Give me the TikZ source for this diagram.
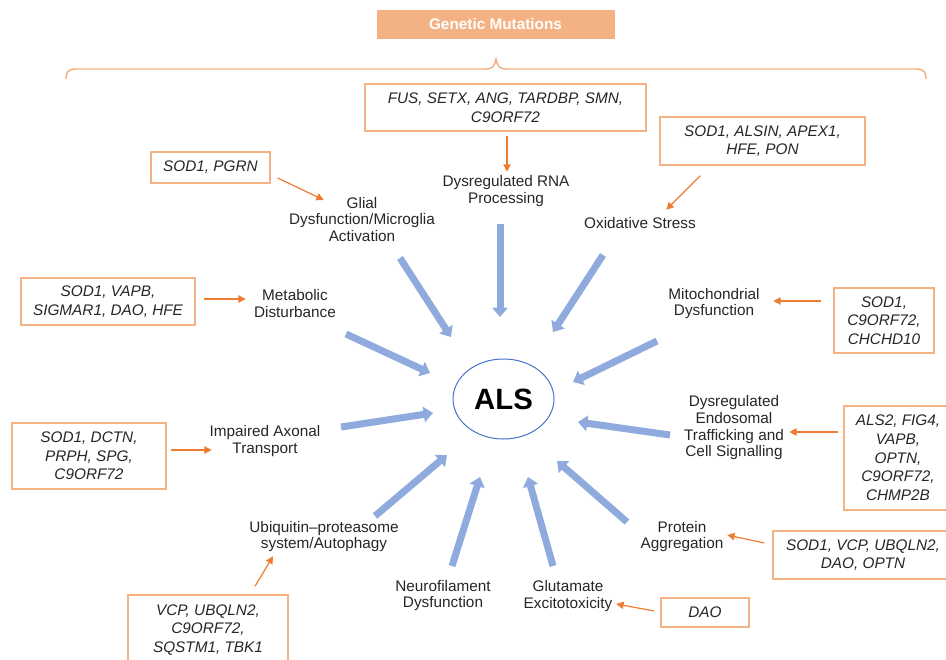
\documentclass[tikz,border=0pt]{standalone}
\usepackage{fontspec}
\setmainfont{Liberation Sans}
\usetikzlibrary{arrows.meta,shapes.geometric}
\definecolor{boxor}{RGB}{244,177,131}
\definecolor{arror}{RGB}{237,125,49}
\definecolor{blu}{RGB}{143,170,220}
\definecolor{ellc}{RGB}{68,114,196}
\definecolor{txt}{RGB}{38,38,38}
\begin{document}
\begin{tikzpicture}[x=0.75pt,y=-0.75pt,
 genebox/.style={draw=boxor,line width=1.1pt,inner sep=0pt,align=center,font=\fontsize{11.5}{14}\selectfont\itshape,text=txt},
 lbl/.style={inner sep=0pt,align=center,font=\fontsize{11.5}{12.5}\selectfont,text=txt},
 oarrow/.style={draw=arror,line width=0.9pt,-{Triangle[width=5.5pt,length=5.5pt]}},
 barrow/.style={draw=blu,line width=5.25pt,-{Triangle[width=11.5pt,length=7pt]}},
 bracestyle/.style={draw=boxor,line width=1.1pt}]
\useasboundingbox (0,0) rectangle (946,660);
\clip (0,0) rectangle (946,660);

% header
\node[fill=boxor,minimum width=178.5pt,minimum height=21.75pt,inner sep=0pt,text=white,font=\fontsize{11.5}{13}\selectfont\bfseries] (hdr) at (495.5,24.5) {Genetic Mutations};
\draw[bracestyle] (66,79) .. controls (66,72) and (68,69) .. (76,69) -- (486,69) .. controls (492,69) and (495,66) .. (496,59) .. controls (497,66) and (500,69) .. (506,69) -- (916,69) .. controls (924,69) and (926,72) .. (926,79);

% gene boxes
\node[genebox,minimum width=210.75pt,minimum height=35.25pt] (fus) at (505.5,107.5) {FUS, SETX, ANG, TARDBP, SMN,\\C9ORF72};
\node[genebox,minimum width=153.75pt,minimum height=36pt] (alsin) at (762.5,141) {SOD1, ALSIN, APEX1,\\HFE, PON};
\node[genebox,minimum width=89.25pt,minimum height=23.25pt] (pgrn) at (210.5,167.5) {SOD1, PGRN};
\node[genebox,minimum width=130.5pt,minimum height=35.25pt] (vapb) at (108,301.5) {SOD1, VAPB,\\SIGMAR1, DAO, HFE};
\node[genebox,minimum width=75pt,minimum height=48.75pt] (chchd) at (884,320.5) {SOD1,\\C9ORF72,\\CHCHD10};
\node[genebox,minimum width=115.5pt,minimum height=49.5pt] (dctn) at (89,456) {SOD1, DCTN,\\PRPH, SPG,\\C9ORF72};
\node[genebox,minimum width=81pt,minimum height=78pt] (alstwo) at (898,458) {ALS2, FIG4,\\VAPB,\\OPTN,\\C9ORF72,\\CHMP2B};
\node[genebox,minimum width=135pt,minimum height=36pt] (vcpa) at (863,555) {SOD1, VCP, UBQLN2,\\DAO, OPTN};
\node[genebox,minimum width=66pt,minimum height=21.75pt] (dao) at (705,612.5) {DAO};
\node[genebox,minimum width=120pt,minimum height=52.5pt] (vcpb) at (208,630) {VCP, UBQLN2,\\C9ORF72,\\SQSTM1, TBK1};

% labels
\node[lbl] (glial) at (362,219.5) {Glial\\Dysfunction/Microglia\\Activation};
\node[lbl] (rna) at (506,191) {Dysregulated RNA\\Processing};
\node[lbl] (oxid) at (640,223) {Oxidative Stress};
\node[lbl] (metab) at (295,303.5) {Metabolic\\Disturbance};
\node[lbl] (mito) at (714,303.5) {Mitochondrial\\Dysfunction};
\node[lbl] (axon) at (265,441) {Impaired Axonal\\Transport};
\node[lbl] (endo) at (734,428) {Dysregulated\\Endosomal\\Trafficking and\\Cell Signalling};
\node[lbl] (prot) at (682,536.5) {Protein\\Aggregation};
\node[lbl] (glut) at (568,596) {Glutamate\\Excitotoxicity};
\node[lbl] (neuro) at (443,595.5) {Neurofilament\\Dysfunction};
\node[lbl] (ubiq) at (324,536.5) {Ubiquitin–proteasome\\system/Autophagy};

% ALS
\node[ellipse,draw=ellc,line width=0.75pt,minimum width=75.75pt,minimum height=60pt,inner sep=0pt,font=\fontsize{22}{24}\selectfont\bfseries] (als) at (503.5,399) {ALS};

% orange arrows
\draw[oarrow] ([shift={(1.5,4)}]fus.south) -- ++(0,36);
\draw[oarrow] ([shift={(41,10)}]alsin.south west) -- ++(-34,34);
\draw[oarrow] ([shift={(7,10.5)}]pgrn.east) -- ++(46,22);
\draw[oarrow] ([shift={(8,-2.5)}]vapb.east) -- ++(42,0);
\draw[oarrow] ([shift={(-12,-19.5)}]chchd.west) -- ++(-48,0);
\draw[oarrow] ([shift={(4,-6)}]dctn.east) -- ++(41,0);
\draw[oarrow] ([shift={(-5,-26)}]alstwo.west) -- ++(-49,0);
\draw[oarrow] ([shift={(-8,-12)}]vcpa.west) -- ++(-37,-8);
\draw[oarrow] ([shift={(-6,-1.5)}]dao.west) -- ++(-38,-7);
\draw[oarrow] ([shift={(47,-8)}]vcpb.north) -- ++(18,-30);

% blue arrows
\draw[barrow] ([shift={(38,38.5)}]glial.center) -- ([shift={(-52.5,-62)}]als.center);
\draw[barrow] ([shift={(-6,33)}]rna.center) -- ([shift={(-3.5,-82)}]als.center);
\draw[barrow] ([shift={(-37,32)}]oxid.center) -- ([shift={(49.5,-67)}]als.center);
\draw[barrow] ([shift={(51,30.5)}]metab.center) -- ([shift={(-73.5,-26)}]als.center);
\draw[barrow] ([shift={(-57,37.5)}]mito.center) -- ([shift={(69.5,-17)}]als.center);
\draw[barrow] ([shift={(76,-14)}]axon.center) -- ([shift={(-70.5,14)}]als.center);
\draw[barrow] ([shift={(-64,7)}]endo.center) -- ([shift={(74.5,23)}]als.center);
\draw[barrow] ([shift={(-55,-14.5)}]prot.center) -- ([shift={(53.5,62)}]als.center);
\draw[barrow] ([shift={(-15,-30)}]glut.center) -- ([shift={(24.5,78)}]als.center);
\draw[barrow] ([shift={(9,-29.5)}]neuro.center) -- ([shift={(-23.5,78)}]als.center);
\draw[barrow] ([shift={(51,-20.5)}]ubiq.center) -- ([shift={(-56.5,56)}]als.center);
\end{tikzpicture}
\end{document}
